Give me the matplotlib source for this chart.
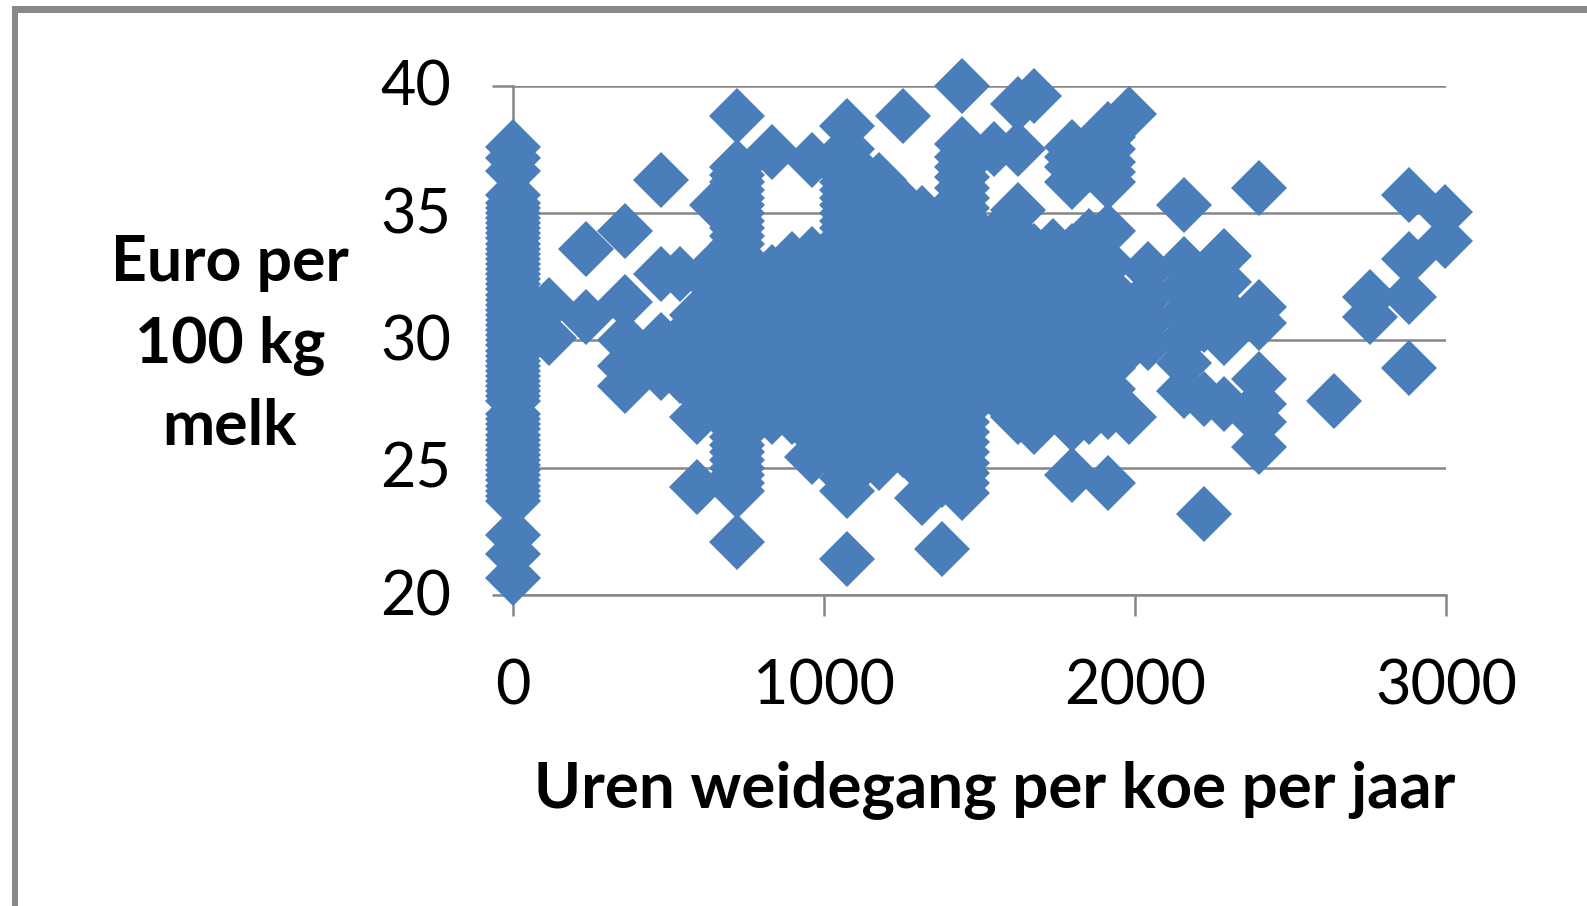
import matplotlib
matplotlib.use('Agg')
import matplotlib.pyplot as plt
from matplotlib.patches import Rectangle
from matplotlib.transforms import ScaledTranslation

plt.rcParams['font.family'] = ['Lato', 'DejaVu Sans']

# hours of grazing, one list of prices per hours value
hours = [0, 117, 235, 362, 476, 538, 594, 657, 720, 778, 835, 898, 961, 1076, 1179,
         1254, 1317, 1380, 1443, 1549, 1625, 1676, 1737, 1798, 1853, 1915,
         1960, 1981, 2042, 2158, 2221, 2285, 2399, 2639, 2755, 2880, 2997]
euros = [
    [20.67, 21.6, 22.35, 23.7, 23.9, 24.1, 24.3, 24.5, 24.7, 24.9, 25.1, 25.3, 25.5, 25.7, 25.9,
     26.1, 26.3, 26.5, 26.7, 26.9, 27.1, 27.6, 27.8, 28, 28.2, 28.4, 28.6, 28.8, 29, 29.2, 29.4,
     29.6, 29.8, 30, 30.2, 30.4, 30.6, 30.8, 31, 31.2, 31.4, 31.6, 31.8, 32, 32.2, 32.4, 32.6,
     32.8, 33, 33.2, 33.4, 33.6, 33.8, 34, 34.2, 34.4, 34.6, 34.8, 35, 35.2, 35.4, 35.7,
     36.66, 37.15, 37.6],
    [30.1, 31.4],
    [30.9, 33.6],
    [28.2, 29, 30, 31.5, 34.3],
    [28.7, 29.5, 30, 32.6, 36.3],
    [28.6, 29.5, 30, 32.6],
    [24.25, 27, 28, 29, 30, 31],
    [28, 29, 30, 31, 32, 33, 35.3],
    [22.1, 24.1, 24.4, 24.7, 25, 25.3, 25.6, 25.9, 26.2, 26.5, 26.8, 27.2, 27.6, 28, 28.5, 29, 29.5,
     30, 30.5, 31, 31.5, 32, 32.5, 33, 33.4, 33.8, 34.1, 34.4, 34.7, 35, 35.3, 35.6, 35.9, 36.2,
     36.5, 36.8, 38.8],
    [27.5, 28.5, 29.5, 30.5, 31.5, 32.5],
    [27, 28, 29, 30, 31, 32, 32.7, 37.4],
    [27, 28, 29, 30, 31, 32, 33.2],
    [25.4, 26.4, 27.4, 28.4, 29.4, 30.4, 31.4, 32.4, 33.4, 37.1],
    [21.4, 24.1, 24.6, 25, 25.5, 26, 26.5, 27, 27.5, 28, 28.5, 29, 29.5, 30, 30.5, 31, 31.5, 32, 32.5,
     33, 33.4, 33.8, 34.1, 34.4, 34.7, 35, 35.3, 35.6, 35.9, 36.2, 36.5, 36.8, 37.1, 37.5, 38.4],
    [25.2, 26.2, 27.2, 28.2, 29.2, 30.2, 31.2, 32.2, 33.2, 34.3, 35.3, 36.3],
    [25.7, 27, 28, 29, 30, 31, 32, 33, 34, 35.3, 38.8],
    [23.8, 25, 26, 27, 28, 29, 30, 31, 32, 33, 34, 35],
    [21.8, 24.5, 25.5, 26.5, 27.5, 28.5, 29.5, 30.5, 31.5, 32.5, 33.5, 34.5],
    [24, 24.4, 24.8, 25.2, 25.6, 26, 26.4, 26.8, 27.2, 27.6, 28, 28.5, 29, 29.5, 30, 30.5, 31, 31.5,
     32, 32.5, 33, 33.5, 34, 34.4, 34.8, 35.2, 35.6, 36, 36.4, 36.8, 37.2, 37.7, 40],
    [28, 29, 30, 31, 32, 33, 34, 37.5],
    [27, 28, 29, 30, 31, 32, 33, 34, 35.1, 37.5, 39.3],
    [26.6, 27.5, 28.5, 29.5, 30.5, 31.5, 32.5, 33.5, 39.6],
    [27.7, 28.7, 29.7, 30.7, 31.7, 32.7, 33.7],
    [24.7, 26.7, 27.5, 28.5, 29.5, 30.5, 31.5, 32.5, 33.5, 36.2, 36.8, 37.2, 37.6],
    [27, 28, 29, 30, 31, 32, 33, 34.1, 36.9, 37.4],
    [24.4, 27.2, 28.1, 28.9, 30, 31, 32, 33, 34.3, 36.2, 36.6, 37, 37.5, 38, 38.3],
    [29.5, 30.5, 31.5],
    [27, 38.9],
    [29.9, 30.8, 31.8, 32.8],
    [28, 29.1, 30, 31, 32, 33, 35.3],
    [23.2, 27.7, 30.6, 31, 32],
    [27.5, 30.1, 31.2, 32.3, 33.3],
    [25.8, 26.8, 27.5, 28.5, 30.7, 31.3, 36],
    [27.6],
    [30.9, 31.7],
    [28.9, 31.7, 33.2, 35.7],
    [33.9, 35.05],
]
x_ticks = [0, 1000, 2000, 3000]
y_ticks = [20, 25, 30, 35, 40]
x_title = 'Uren weidegang per koe per jaar'
y_title = 'Euro per\n100 kg\nmelk'

W, H = 1587, 906
gray = '#868686'
blue = '#4a7ebb'

fig = plt.figure(figsize=(W / 100, H / 100), dpi=100)
ax = fig.add_axes([512.5 / W, 1 - 595 / H, (1446 - 512.5) / W, (595 - 85.7) / H])

for h, ys in zip(hours, euros):
    ax.plot([h] * len(ys), ys, linestyle='none', marker='D', markersize=28.5,
            markerfacecolor=blue, markeredgewidth=0, clip_on=False, zorder=3)

ax.set_xlim(0, 3000)
ax.set_ylim(20, 40)
ax.set_xticks(x_ticks)
ax.set_yticks(y_ticks)
ax.grid(axis='y', color=gray, linewidth=1.8)
ax.set_axisbelow(True)
for side in ['top', 'right']:
    ax.spines[side].set_visible(False)
for side in ['left', 'bottom']:
    ax.spines[side].set_color(gray)
    ax.spines[side].set_linewidth(1.8)
ax.tick_params(axis='both', color=gray, width=1.8, length=15, labelsize=44, labelcolor='black')
ax.tick_params(axis='x', pad=31)
ax.tick_params(axis='y', pad=29)
# y labels sit a little lower in the original
for lab in ax.get_yticklabels():
    lab.set_verticalalignment('center')
    lab.set_transform(lab.get_transform() + ScaledTranslation(0, -2 / 72, fig.dpi_scale_trans))

fig.text(230 / W, 1 - 345 / H, y_title, ha='center', va='center', fontsize=45,
         fontweight='bold', linespacing=1.5)
fig.text(995 / W, 1 - 790 / H, x_title, ha='center', va='center', fontsize=45.8,
         fontweight='bold')

# grey chart border, only top and left show in the crop
fig.add_artist(Rectangle((12 / W, 0), 6 / W, 1 - 6 / H, transform=fig.transFigure, color='#898989', lw=0))
fig.add_artist(Rectangle((12 / W, 1 - 13 / H), 1 - 12 / W, 7 / H, transform=fig.transFigure, color='#898989', lw=0))

fig.savefig('out.png', dpi=100)
